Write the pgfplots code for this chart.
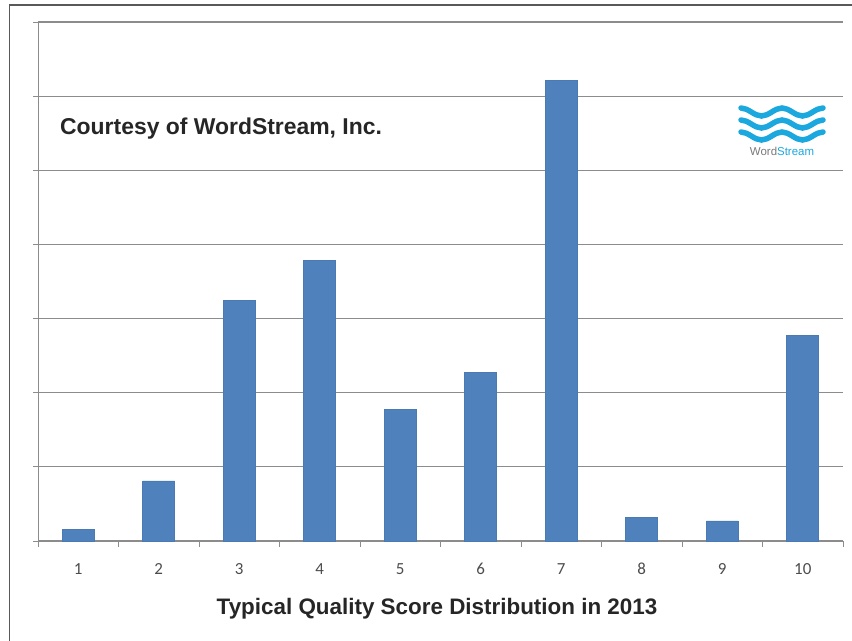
\documentclass[border=0pt]{standalone}
\usepackage{pgfplots}
\pgfplotsset{compat=1.18}
\usepackage{fontspec}
\setmainfont{Liberation Sans}
\newfontfamily\carlito{Carlito}
\definecolor{barblue}{HTML}{4F81BD}
\definecolor{baredge}{HTML}{4A7AB3}
\definecolor{gridgray}{HTML}{8C8C8C}
\definecolor{wscyan}{HTML}{1BA8DE}
\definecolor{wsgray}{HTML}{7A7A7A}
\begin{document}
\begin{tikzpicture}[x=1bp,y=1bp]
\useasboundingbox (0,0) rectangle (852,641);
\fill[white] (0,0) rectangle (852,641);
\draw[color=black!65, line width=1.2bp] (9.5,0) -- (9.5,636) -- (852,636);
\begin{axis}[
  at={(38bp,100bp)}, anchor=south west,
  scale only axis, width=805bp, height=519bp,
  xmin=0.5, xmax=10.5, ymin=0, ymax=7,
  ybar, bar width=32bp,
  axis x line*=bottom, axis y line*=left,
  axis line style={draw=gridgray, line width=1bp},
  xtick={1,...,10}, xticklabels={1,2,3,4,5,6,7,8,9,10},
  major x tick style={draw=none},
  minor xtick={0.5,1.5,...,10.5},
  minor x tick style={draw=gridgray, line width=0.8bp},
  minor tick length=6bp,
  ytick={0,1,...,7}, yticklabels={},
  major y tick style={draw=gridgray, line width=0.8bp},
  major tick length=5bp,
  tick align=outside,
  ymajorgrids, grid style={draw=gridgray, line width=1.2bp},
  xticklabel style={font=\carlito\fontsize{17}{17}\selectfont, text=black!70, anchor=base, yshift=-29bp},
  clip=false,
]
\addplot[fill=barblue, draw=baredge, line width=0.6bp] coordinates {(1,0.16) (2,0.81) (3,3.25) (4,3.78) (5,1.78) (6,2.27) (7,6.21) (8,0.32) (9,0.27) (10,2.77)};
\end{axis}
\node[anchor=base west, font=\bfseries\fontsize{23}{23}\selectfont, text=black!85, inner sep=0pt] at (60,506) {Courtesy of WordStream, Inc.};
\node[anchor=base, font=\bfseries\fontsize{22.5}{22.5}\selectfont, text=black!85, inner sep=0pt] at (437,26) {Typical Quality Score Distribution in 2013};
% logo
\foreach \yy in {529,517,505}{
  \draw[wscyan, line width=5.5bp, line cap=round]
    (741,\yy+4) cos (751.25,\yy) sin (761.5,\yy-4) cos (771.75,\yy) sin (782,\yy+4)
    cos (792.25,\yy) sin (802.5,\yy-4) cos (812.75,\yy) sin (823,\yy+4);
}
\node[anchor=base, font=\fontsize{11.5}{11.5}\selectfont, inner sep=0pt] at (782,485) {\textcolor{wsgray}{Word}\textcolor{wscyan}{Stream}};
\end{tikzpicture}
\end{document}
